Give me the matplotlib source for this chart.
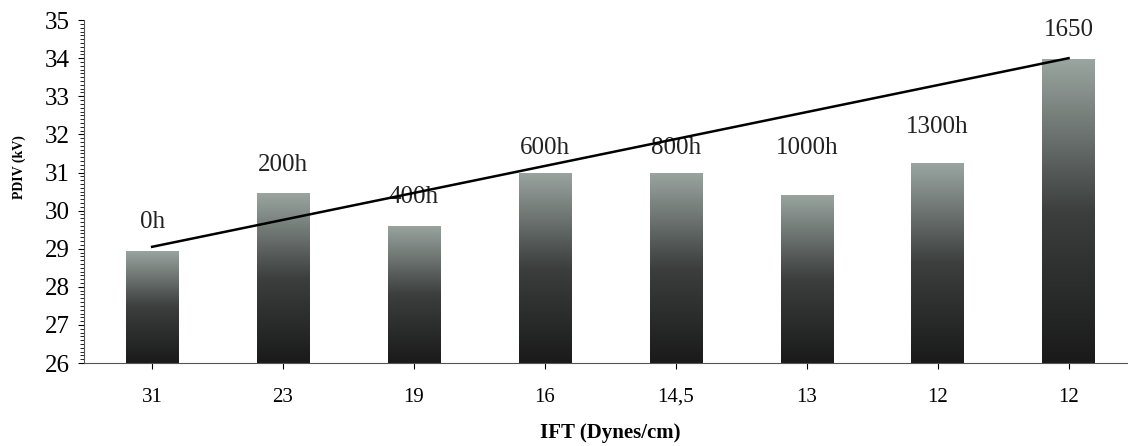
import numpy as np
import matplotlib
matplotlib.use("Agg")
import matplotlib.pyplot as plt
from matplotlib.colors import LinearSegmentedColormap
from matplotlib.ticker import MultipleLocator

# data
ift_labels = ["31", "23", "19", "16", "14,5", "13", "12", "12"]
pdiv = [28.95, 30.45, 29.6, 31.0, 31.0, 30.42, 31.24, 33.97]
hours = ["0h", "200h", "400h", "600h", "800h", "1000h", "1300h", "1650"]
label_y = [29.7, 31.2, 30.35, 31.65, 31.65, 31.65, 32.2, 34.75]
trend = [29.05, 34.0]

plt.rcParams["font.family"] = ["Liberation Serif", "DejaVu Serif"]

fig = plt.figure(figsize=(11.28, 4.46), dpi=100)
ax = fig.add_axes([0.0745, 0.186, 0.925, 0.769])

x = np.arange(len(pdiv))
bars = ax.bar(x, np.array(pdiv) - 26, bottom=26, width=0.4, color="none", edgecolor="none")

cmap = LinearSegmentedColormap.from_list("g", ["#1a1a1a", "#3c3f3e", "#9aa5a0"])
grad = np.linspace(0, 1, 256).reshape(-1, 1)
for b in bars:
    x0, y0 = b.get_x(), b.get_y()
    w, h = b.get_width(), b.get_height()
    im = ax.imshow(grad, cmap=cmap, origin="lower", aspect="auto",
                   extent=(x0, x0 + w, y0, y0 + h), zorder=2)
    im.set_clip_path(b)

for xi, txt, ly in zip(x, hours, label_y):
    ax.text(xi, ly, txt, ha="center", va="center", fontsize=18, color="#222222")

ax.plot([x[0], x[-1]], trend, color="black", lw=1.8, zorder=3)

ax.set_xlim(-0.52, 7.45)
ax.set_ylim(26, 35)
ax.set_xticks(x)
ax.set_xticklabels(ift_labels, fontsize=15)
ax.yaxis.set_major_locator(MultipleLocator(1))
ax.yaxis.set_minor_locator(MultipleLocator(0.1))
ax.tick_params(axis="y", labelsize=18, length=4, width=0.8, pad=6)
ax.tick_params(axis="y", which="minor", length=3, width=0.6)
ax.tick_params(axis="x", length=4, width=0.8, pad=14)

for s in ["top", "right"]:
    ax.spines[s].set_visible(False)
ax.spines["left"].set_color("#555555")
ax.spines["bottom"].set_color("#555555")

ax.set_ylabel("PDIV (kV)", fontsize=10, fontweight="bold")
ax.yaxis.set_label_coords(-0.056, 0.57)
ax.set_xlabel("IFT (Dynes/cm)", fontsize=15, fontweight="bold")
ax.xaxis.set_label_coords(0.504, -0.175)

fig.savefig("out.png", dpi=100)
